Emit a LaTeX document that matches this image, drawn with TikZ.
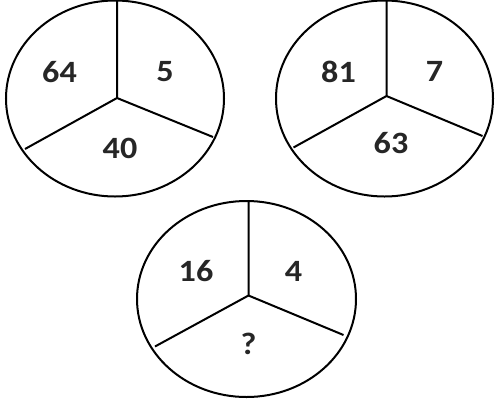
\documentclass[tikz,border=0pt]{standalone}
\usepackage{fontspec}
\setmainfont{Carlito}
\begin{document}
\begin{tikzpicture}[x=1pt,y=-1pt,
  ring/.style={line width=2pt},
  spoke/.style={line width=2pt},
  num/.style={inner sep=0pt,font=\fontsize{31}{33}\selectfont\bfseries,color=black!85}]
\useasboundingbox[fill=white] (0,0) rectangle (500,400);
% top-left
\draw[ring] (115,98.5) ellipse [x radius=109, y radius=98];
\coordinate (c1) at (117,98);
\coordinate (t1) at (117,0.5);
\coordinate (r1) at (213,137);
\coordinate (l1) at (25,149);
\draw[spoke] (t1) -- (c1) -- (r1) (c1) -- (l1);
\node[num] (a1) at (59.5,72) {\scalebox{1.1}[1]{64}};
\node[num] (b1) at (165,72) {\scalebox{1.1}[1]{5}};
\node[num] (d1) at (120,148) {\scalebox{1.1}[1]{40}};
% top-right
\draw[ring] (384.5,98.5) ellipse [x radius=108.5, y radius=98];
\coordinate (c2) at (386.5,96);
\coordinate (t2) at (386.5,0.5);
\coordinate (r2) at (482.5,136);
\coordinate (l2) at (293.5,147.5);
\draw[spoke] (t2) -- (c2) -- (r2) (c2) -- (l2);
\node[num] (a2) at (338.5,72) {\scalebox{1.1}[1]{81}};
\node[num] (b2) at (434.5,71) {\scalebox{1.1}[1]{7}};
\node[num] (d2) at (391,143.5) {\scalebox{1.1}[1]{63}};
% bottom
\draw[ring] (246.5,299) ellipse [x radius=109.5, y radius=98];
\coordinate (c3) at (248.5,295.5);
\coordinate (t3) at (248.5,201);
\coordinate (r3) at (343.5,335);
\coordinate (l3) at (155,346.5);
\draw[spoke] (t3) -- (c3) -- (r3) (c3) -- (l3);
\node[num] (a3) at (196,271.5) {\scalebox{1.1}[1]{16}};
\node[num] (b3) at (293.5,271) {\scalebox{1.1}[1]{4}};
\node[num] (d3) at (248.5,343.5) {\scalebox{1.1}[1]{?}};
\end{tikzpicture}
\end{document}
